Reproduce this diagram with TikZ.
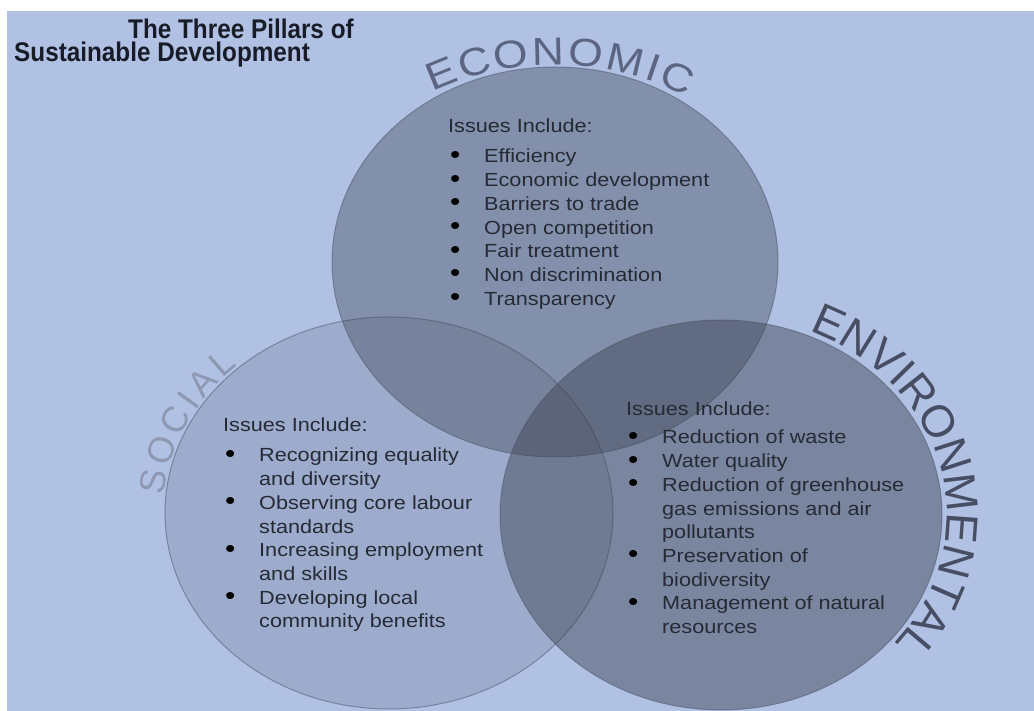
\documentclass[tikz,border=0pt]{standalone}
\usepackage{fontspec}
\usepackage{graphicx}
\setmainfont{Liberation Sans}
\newfontfamily\widefont[FakeStretch=1.14]{Liberation Sans}
\newfontfamily\titlefont[FakeStretch=0.9]{Liberation Sans}
\usetikzlibrary{decorations.text,positioning}

\definecolor{bgblue}{HTML}{B1C1E4}
\definecolor{shade}{HTML}{3A4150}
\definecolor{rim}{HTML}{4A5268}
\definecolor{bodytext}{HTML}{252A35}
\definecolor{titletext}{HTML}{181C28}
\definecolor{econlabel}{HTML}{5B6480}
\definecolor{envlabel}{HTML}{474E63}
\definecolor{sociallabel}{HTML}{8F98B2}

\newcommand{\econfont}{\widefont\fontsize{39}{44}\selectfont}
\newcommand{\envfont}{\fontsize{45}{50}\selectfont}
\newcommand{\socialfont}{\fontsize{36}{40}\selectfont}
\newcommand{\blob}{\textcolor{black}{\raisebox{-0.5pt}{\scalebox{1.35}{\textbullet}}}}

\tikzset{
  pillar/.style={fill=shade, draw=rim, draw opacity=.5, line width=1pt},
  issues/.style={anchor=base west, inner sep=0pt, text=bodytext,
    font=\widefont\fontsize{19}{23.7}\selectfont},
  heading/.style={anchor=base west, inner sep=0pt, text=titletext,
    font=\titlefont\bfseries\fontsize{27}{27}\selectfont},
  arcname/.style={decorate, decoration={text along path, text align=fit to path, text color=#1}}
}

\begin{document}
\begin{tikzpicture}[x=1pt,y=1pt]
  \useasboundingbox (0,0) rectangle (1034,711);
  \fill[bgblue] (7,0) rectangle (1034,700);

  % social, economic, environmental
  \foreach \cx/\cy/\rx/\ry/\op in {389/198/224/196/.16, 555/449/223/195/.38, 721/196/221/195/.46}
    \path[pillar, fill opacity=\op] (\cx,\cy) ellipse[x radius=\rx, y radius=\ry];

  \node[heading] (title1) at (128,672) {The Three Pillars of};
  \node[heading] (title2) at (14,649) {Sustainable Development};

  % names bent round the circles
  \path[arcname=econlabel, decoration={text={|\econfont|ECONOMIC}}, shift={(555,356)}]
    (115:290) arc[start angle=115, end angle=63, radius=290];
  \path[arcname=envlabel, decoration={text={|\envfont|ENVIRONMENTAL}}, shift={(721,196)}]
    (67:226 and 200) arc[start angle=67, end angle=-39, x radius=226, y radius=200];
  \path[arcname=sociallabel, decoration={text={|\socialfont|SOCIAL}}, shift={(389,198)}]
    (175:226 and 198) arc[start angle=175, end angle=132, x radius=226, y radius=198];

  \node[issues] (econlist) at (448,578) {\begin{tabular}[t]{@{\hspace{2pt}}p{34pt}@{}l@{}}
    \multicolumn{2}{@{}l@{}}{Issues Include:}\\[6.3pt]
    \blob & Efficiency\\
    \blob & Economic development\\
    \blob & Barriers to trade\\
    \blob & Open competition\\
    \blob & Fair treatment\\
    \blob & Non discrimination\\
    \blob & Transparency
  \end{tabular}};

  \node[issues] (sociallist) at (223,279) {\begin{tabular}[t]{@{\hspace{2pt}}p{34pt}@{}l@{}}
    \multicolumn{2}{@{}l@{}}{Issues Include:}\\[6.3pt]
    \blob & Recognizing equality\\
     & and diversity\\
    \blob & Observing core labour\\
     & standards\\
    \blob & Increasing employment\\
     & and skills\\
    \blob & Developing local\\
     & community benefits
  \end{tabular}};

  \node[issues] (envlist) at (626,295) {\begin{tabular}[t]{@{\hspace{2pt}}p{34pt}@{}l@{}}
    \multicolumn{2}{@{}l@{}}{Issues Include:}\\[4.3pt]
    \blob & Reduction of waste\\
    \blob & Water quality\\
    \blob & Reduction of greenhouse\\
     & gas emissions and air\\
     & pollutants\\
    \blob & Preservation of\\
     & biodiversity\\
    \blob & Management of natural\\
     & resources
  \end{tabular}};
\end{tikzpicture}
\end{document}
